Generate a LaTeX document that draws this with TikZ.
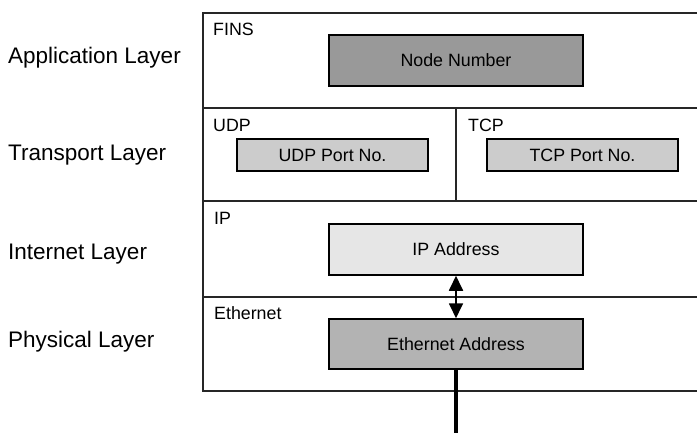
\documentclass[tikz,border=0pt]{standalone}
\usepackage{fontspec}
\setmainfont{Liberation Sans}
\usetikzlibrary{arrows.meta}
\definecolor{gNode}{HTML}{999999}
\definecolor{gPort}{HTML}{CCCCCC}
\definecolor{gIP}{HTML}{E6E6E6}
\definecolor{gEth}{HTML}{B3B3B3}
\begin{document}
\begin{tikzpicture}[x=1pt,y=-1pt,
  layerlabel/.style={anchor=west,inner sep=0pt,font=\fontsize{22.5}{26}\selectfont},
  tag/.style={anchor=west,inner sep=0pt,font=\fontsize{17.8}{21}\selectfont},
  field/.style={draw=black,line width=1.5pt,inner sep=0pt,font=\fontsize{17.8}{21}\selectfont},
  frame/.style={line width=1.4pt,draw=black!85}
]
\useasboundingbox (0,0) rectangle (697,433);
% frame
\draw[frame] (697.5,13) -- (203,13) -- (203,391) -- (697.5,391);
\draw[frame] (203,108) -- (697.5,108);
\draw[frame] (203,201) -- (697.5,201);
\draw[frame] (203,297) -- (697.5,297);
\draw[frame] (456,108) -- (456,201);
% layer labels
\node[layerlabel] (app) at (8,58) {Application Layer};
\node[layerlabel] (trn) at (8,155) {Transport Layer};
\node[layerlabel] (inet) at (8,254) {Internet Layer};
\node[layerlabel] (phy) at (8,342) {Physical Layer};
% tags
\node[tag] (fins) at (213,29) {FINS};
\node[tag] (udp) at (213,125) {UDP};
\node[tag] (tcp) at (468,125) {TCP};
\node[tag] (ip) at (214,218) {IP};
\node[tag] (ethl) at (214,313) {Ethernet};
% fields
\node[field,fill=gNode,minimum width=254pt,minimum height=51pt] (nn) at (456,60.5) {Node Number};
\node[field,fill=gPort,minimum width=191pt,minimum height=32pt] (udpp) at (332.5,155) {UDP Port No.};
\node[field,fill=gPort,minimum width=191pt,minimum height=32pt] (tcpp) at (582.5,155) {TCP Port No.};
\node[field,fill=gIP,minimum width=254pt,minimum height=51pt] (ipa) at (456,249.5) {IP Address};
\node[field,fill=gEth,minimum width=254pt,minimum height=50pt] (etha) at (456,344) {Ethernet Address};
% connectors
\draw[line width=1.8pt,{Triangle[length=15pt,width=14pt]}-{Triangle[length=15pt,width=14pt]}] (ipa.south) -- (etha.north);
\coordinate (wire) at (456,434);
\draw[line width=4pt] (etha.south) -- (wire);
\end{tikzpicture}
\end{document}
